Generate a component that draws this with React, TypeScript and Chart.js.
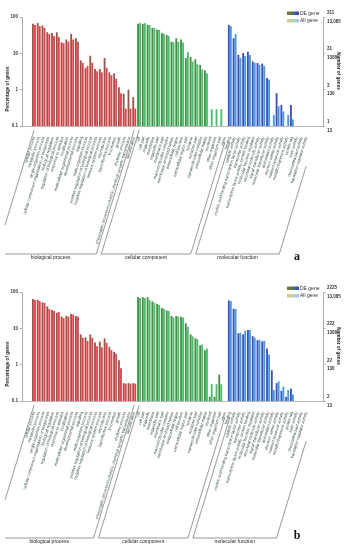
import React, { useEffect, useRef } from "react";
import { Chart, registerables } from "chart.js";
Chart.register(...registerables);

// ---------- categories ----------
const bpTerms = [
  "cellular process", "metabolic process", "single-organism process",
  "cellular component organization or biogenesis", "biological regulation",
  "regulation of biological process", "response to stimulus", "localization",
  "multicellular organismal process", "developmental process", "signaling",
  "multi-organism process", "positive regulation of biological process",
  "negative regulation of biological process", "immune system process",
  "reproduction", "reproductive process", "locomotion", "growth",
  "rhythmic process", "presynaptic process involved in chemical synaptic transmission",
  "detoxification",
];
const ccTerms = [
  "cell", "cell part", "organelle", "membrane", "organelle part", "membrane part",
  "macromolecular complex", "membrane-enclosed lumen", "extracellular region",
  "cell junction", "extracellular region part", "synapse", "synapse part",
  "supramolecular complex", "extracellular matrix", "nucleoid", "other organism",
  "other organism part", "virion",
];
const mfTerms = [
  "binding", "catalytic activity", "nucleic acid binding transcription factor activity",
  "transporter activity", "transcription factor activity, protein binding",
  "molecular function regulator", "structural molecule activity",
  "signal transducer activity", "molecular transducer activity", "antioxidant activity",
  "electron carrier activity", "nutrient reservoir activity", "metallochaperone activity",
  "protein tag", "toxin activity", "chemoattractant activity", "translation regulator activity",
];
const groupNames = ["biological process", "cellular component", "molecular function"];

// ---------- All gene (%) (same background set in both panels) ----------
const bpAllGene = [60, 56, 50, 34, 30, 28, 19, 21, 24, 21, 5.5, 4.5, 5.5, 3.2, 3.0, 4.0, 2.5, 2.0, 0.8, 0.3, 0.3, 0.3];
const ccAllGene = [68, 68, 60, 50, 44, 34, 30, 20, 21, 20, 11, 6, 5, 3.6, 2.8, 0.29, 0.29, 0.29, 0];
const mfAllGene = [56, 34, 7.5, 8.5, 9, 5.5, 4.8, 4.5, 1.9, 0.2, 0.35, 0.25, 0.2, 0.15, 0, 0, 0];

// ---------- DE gene (%) panel a ----------
const bpDeA = [65, 68, 58, 38, 36, 38, 20, 24, 34, 26, 6.4, 3.9, 8.6, 3.7, 3.7, 7.4, 3.0, 2.8, 1.17, 0.77, 1.0, 0.62];
const ccDeA = [65, 65, 61, 50, 45, 36, 32, 21, 26, 24, 7.4, 7.9, 6.9, 4.8, 3.4, 0, 0, 0, 0];
const mfDeA = [61, 26, 9.1, 10.2, 11, 6, 5.4, 5.2, 2.1, 0, 0.8, 0.38, 0, 0.38, 0, 0, 0];

// ---------- DE gene (%) panel b ----------
const bpDeB = [64, 61, 52, 40, 32, 27, 21, 22, 25, 22, 6.8, 5.6, 6.8, 4.1, 4.3, 5.3, 3.1, 2.25, 1.32, 0.31, 0.31, 0.31];
const ccDeB = [73, 72, 72, 55, 47, 36, 31, 22, 22, 21, 13.8, 6.8, 5.3, 3.4, 2.5, 0.13, 0.13, 0.53, 0];
const mfDeB = [58.6, 34.4, 7.3, 6.8, 9, 6.1, 4.7, 4.4, 2.8, 0.7, 0.31, 0.19, 0.13, 0.22, 0, 0, 0];

// ---------- ticks ----------
const leftTickValues = [0.1, 1, 10, 100];
const leftTickLabels = ["0.1", "1", "10", "100"];
const rightTicksA = [["1", "13"], ["3", "130"], ["31", "1308"], ["311", "13,085"]];
const rightTicksB = [["2", "13"], ["22", "130"], ["222", "1308"], ["2225", "13,085"]];

// ---------- styling ----------
const FONT = "'Liberation Sans', Arial, sans-serif";
const PAD_L = 2;
const PAD_R = 3;
const deColors = ["#9c5444", "#4d8a48", "#3f4db8"];
const allColors = ["#f23a4a", "#3fc468", "#3f9ae6"];
const legendDe = ["#7a7042", "#4c7a4c", "#3c48c0"];
const legendAll = ["#d4cc92", "#bcd8a2", "#a8c8f0"];
const ROT = 73;

function buildData(bpDe: number[], ccDe: number[], mfDe: number[]) {
  const groups = [bpTerms, ccTerms, mfTerms];
  const labels: string[] = [];
  const de: (number | null)[] = [];
  const all: (number | null)[] = [];
  const deC: string[] = [];
  const allC: string[] = [];
  const deSets = [bpDe, ccDe, mfDe];
  const allSets = [bpAllGene, ccAllGene, mfAllGene];
  for (let i = 0; i < PAD_L; i++) { labels.push(""); de.push(null); all.push(null); deC.push("#000"); allC.push("#000"); }
  groups.forEach((terms, g) => {
    terms.forEach((t, i) => {
      labels.push(t);
      const d = deSets[g][i];
      const a = allSets[g][i];
      de.push(d > 0 ? d : null);
      all.push(a > 0 ? a : null);
      deC.push(deColors[g]);
      allC.push(allColors[g]);
    });
  });
  for (let i = 0; i < PAD_R; i++) { labels.push(""); de.push(null); all.push(null); deC.push("#000"); allC.push("#000"); }
  return { labels, de, all, deC, allC };
}

type PanelProps = {
  bpDe: number[]; ccDe: number[]; mfDe: number[];
  rightTicks: string[][]; letter: string; baseY: number; letterY: number;
};

function Panel({ bpDe, ccDe, mfDe, rightTicks, letter, baseY, letterY }: PanelProps) {
  const ref = useRef<HTMLCanvasElement | null>(null);
  useEffect(() => {
    if (!ref.current) return;
    const d = buildData(bpDe, ccDe, mfDe);
    const sizes = [bpTerms.length, ccTerms.length, mfTerms.length];

    const decor = {
      id: "decor",
      afterDraw(chart: any) {
        const ctx = chart.ctx as CanvasRenderingContext2D;
        const xs = chart.scales.x;
        const ys = chart.scales.y;
        const n = chart.data.labels.length;
        const w = (xs.right - xs.left) / n;
        const bottom = ys.bottom;
        ctx.save();
        // axis titles
        ctx.fillStyle = "#222";
        ctx.font = `bold 4.6px ${FONT}`;
        ctx.textAlign = "center";
        ctx.textBaseline = "middle";
        ctx.save();
        ctx.translate(8, 89);
        ctx.rotate(-Math.PI / 2);
        ctx.fillText("Percentage of genes", 0, 0);
        ctx.restore();
        ctx.save();
        ctx.translate(338, 71);
        ctx.rotate(Math.PI / 2);
        ctx.fillText("Number of genes", 0, 0);
        ctx.restore();
        // legend
        for (let i = 0; i < 3; i++) {
          ctx.fillStyle = legendDe[i];
          ctx.fillRect(287 + i * 4, 11.5, 4, 3.5);
          ctx.fillStyle = legendAll[i];
          ctx.fillRect(287 + i * 4, 19, 4, 3.5);
        }
        ctx.fillStyle = "#333";
        ctx.font = `5px ${FONT}`;
        ctx.textAlign = "left";
        ctx.fillText("DE gene", 300, 13.3);
        ctx.fillText("All gene", 300, 20.8);
        // brackets
        const k = Math.tan(((90 - ROT) * Math.PI) / 180);
        const offs = [[4, 4], [4, 16], [16, 40]];
        let start = PAD_L;
        ctx.strokeStyle = "#555";
        ctx.lineWidth = 0.6;
        sizes.forEach((sz, g) => {
          const x0 = xs.left + start * w + 2.5;
          const x1 = xs.left + (start + sz) * w - 2.5;
          const tL = bottom + offs[g][0];
          const tR = bottom + offs[g][1];
          let bl = x0 - k * (baseY - tL);
          const br = x1 - k * (baseY - tR);
          ctx.beginPath();
          if (bl < 5) {
            const yClip = tL + (x0 - 5) / k;
            ctx.moveTo(x0, tL);
            ctx.lineTo(5, yClip);
            ctx.moveTo(5, baseY);
            bl = 5;
          } else {
            ctx.moveTo(x0, tL);
            ctx.lineTo(bl, baseY);
          }
          ctx.lineTo(br, baseY);
          ctx.lineTo(x1, tR);
          ctx.stroke();
          ctx.fillStyle = "#222";
          ctx.font = `5px ${FONT}`;
          ctx.textAlign = "center";
          ctx.textBaseline = "middle";
          ctx.fillText(groupNames[g], (bl + br) / 2, baseY + 4);
          start += sz;
        });
        // panel letter
        ctx.fillStyle = "#111";
        ctx.font = `bold 12px 'Liberation Serif', 'Times New Roman', serif`;
        ctx.textAlign = "center";
        ctx.textBaseline = "middle";
        ctx.fillText(letter, 297, letterY);
        ctx.restore();
      },
    };

    const chart = new Chart(ref.current, {
      type: "bar",
      data: {
        labels: d.labels,
        datasets: [
          { label: "DE gene", data: d.de as any, backgroundColor: d.deC, yAxisID: "y", barPercentage: 0.9, categoryPercentage: 0.85 },
          { label: "All gene", data: d.all as any, backgroundColor: d.allC, yAxisID: "y", barPercentage: 0.9, categoryPercentage: 0.85 },
        ],
      },
      options: {
        animation: false,
        responsive: false,
        maintainAspectRatio: false,
        layout: { padding: { top: 17, left: 0, right: 0, bottom: 0 } },
        plugins: { legend: { display: false }, tooltip: { enabled: false } },
        scales: {
          x: {
            type: "category",
            offset: true,
            grid: { display: false },
            border: { display: true, color: "#999", width: 0.7 },
            ticks: {
              autoSkip: false, minRotation: ROT, maxRotation: ROT,
              font: { size: 4, family: FONT }, color: "#2a4238", padding: 2,
            },
            afterFit: (s: any) => { s.height = 149; },
          },
          y: {
            type: "logarithmic", position: "left", min: 0.1, max: 100,
            afterBuildTicks: (s: any) => { s.ticks = leftTickValues.map((v) => ({ value: v })); },
            ticks: {
              callback: (_v: any, i: number) => leftTickLabels[i],
              font: { size: 4.5, family: FONT, weight: "bold" }, color: "#333", padding: 1.5,
            },
            grid: { drawOnChartArea: false, tickLength: 2.5, color: "#888", lineWidth: 0.6 },
            border: { color: "#888", width: 0.7 },
            afterFit: (s: any) => { s.width = 22; },
          },
          y2: {
            type: "logarithmic", position: "right", min: 0.1, max: 100,
            afterBuildTicks: (s: any) => { s.ticks = leftTickValues.map((v) => ({ value: v })); },
            ticks: {
              callback: (_v: any, i: number) => rightTicks[i],
              font: { size: 4.5, family: FONT, weight: "bold", lineHeight: 1.9 }, color: "#333", padding: 1.5,
            },
            grid: { drawOnChartArea: false, tickLength: 2.5, color: "#888", lineWidth: 0.6 },
            border: { color: "#888", width: 0.7 },
            afterFit: (s: any) => { s.width = 26; },
          },
        },
      } as any,
      plugins: [decor],
    });
    return () => chart.destroy();
  }, []);
  return <canvas ref={ref} width={349} height={275} style={{ display: "block", width: 349, height: 275 }} />;
}

export default function App() {
  return (
    <div style={{ position: "absolute", left: 0, top: 0, width: 349, height: 550, background: "#fff" }}>
      <Panel bpDe={bpDeA} ccDe={ccDeA} mfDe={mfDeA} rightTicks={rightTicksA} letter="a" baseY={254} letterY={257} />
      <Panel bpDe={bpDeB} ccDe={ccDeB} mfDe={mfDeB} rightTicks={rightTicksB} letter="b" baseY={263} letterY={261} />
    </div>
  );
}
